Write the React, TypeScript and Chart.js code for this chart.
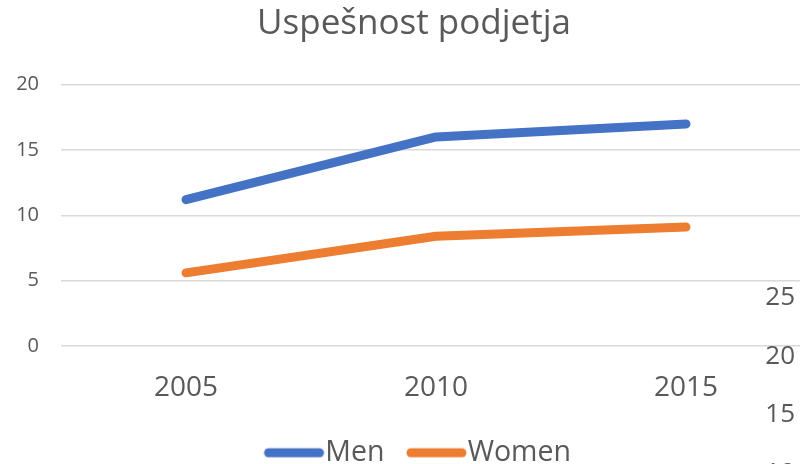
import React, { useEffect, useRef } from "react";
import { Chart, registerables } from "chart.js";

Chart.register(...registerables);

const chartTitle = "Uspešnost podjetja";
const years = ["2005", "2010", "2015"];
const seriesNames = ["Men", "Women"];
const menValues = [11.2, 16.0, 17.0];
const womenValues = [5.6, 8.4, 9.1];
const seriesColors = ["#4472C4", "#ED7D31"];
const yMin = 0;
const yMax = 20;
const yStep = 5;
const overlayTicks = ["25", "20", "15", "10"];

const FONT = "'Open Sans', Lato, sans-serif";
const TEXT = "#595959";
const LEGEND_FONT = 28.5;
const LEGEND_BOX = 64;

function makeSwatch(color: string): HTMLCanvasElement {
  const c = document.createElement("canvas");
  const w = Math.round(LEGEND_BOX + LEGEND_FONT);
  c.width = w;
  c.height = 12;
  const g = c.getContext("2d")!;
  g.strokeStyle = color;
  g.lineWidth = 9;
  g.lineCap = "round";
  g.beginPath();
  g.moveTo(w - 57, 6);
  g.lineTo(w - 6, 6);
  g.stroke();
  return c;
}

const legendShift = {
  id: "legendShift",
  afterLayout(c: any) {
    if (c.legend) {
      c.legend.left -= 5;
      c.legend.right -= 5;
    }
  },
};

export default function App() {
  const ref = useRef<HTMLCanvasElement | null>(null);

  useEffect(() => {
    if (!ref.current) return;
    const swatches = seriesColors.map(makeSwatch);
    const lineDs = (i: number, data: number[]) => ({
      label: seriesNames[i],
      data,
      borderColor: seriesColors[i],
      backgroundColor: seriesColors[i],
      borderWidth: 9,
      borderCapStyle: "round" as const,
      borderJoinStyle: "round" as const,
      pointRadius: 0,
      tension: 0,
    });
    const chart = new Chart(ref.current, {
      type: "line",
      data: {
        labels: years,
        datasets: [lineDs(0, menValues), lineDs(1, womenValues)],
      },
      plugins: [legendShift],
      options: {
        animation: false,
        responsive: false,
        maintainAspectRatio: false,
        layout: { padding: { left: 17, right: 0, top: 0, bottom: 0 } },
        plugins: {
          tooltip: { enabled: false },
          title: {
            display: true,
            text: chartTitle,
            color: TEXT,
            font: { family: FONT, size: 35, weight: "normal" },
            padding: { top: 3, bottom: 39.7 },
          },
          legend: {
            position: "bottom",
            labels: {
              usePointStyle: true,
              pointStyleWidth: LEGEND_BOX,
              boxHeight: 12,
              padding: 5,
              color: TEXT,
              font: { family: FONT, size: LEGEND_FONT },
              generateLabels: (c: any) => {
                const items = Chart.defaults.plugins.legend.labels.generateLabels(c);
                items.forEach((it: any, i: number) => {
                  it.pointStyle = swatches[i];
                });
                return items;
              },
            },
          },
        },
        scales: {
          x: {
            offset: true,
            grid: { display: false, drawTicks: false },
            border: { display: false },
            ticks: { color: TEXT, font: { family: FONT, size: 28 }, padding: 25 },
            afterFit: (s: any) => {
              s.height = 87.5;
            },
          },
          y: {
            min: yMin,
            max: yMax,
            ticks: { stepSize: yStep, color: TEXT, font: { family: FONT, size: 20 }, padding: 22 },
            grid: { color: "#D9D9D9", lineWidth: 1.5, drawTicks: false },
            border: { display: false },
            afterFit: (s: any) => {
              s.width = 44;
            },
          },
        },
      },
    });
    return () => chart.destroy();
  }, []);

  return (
    <div
      style={{
        position: "fixed",
        left: 0,
        top: 0,
        width: 800,
        height: 464,
        overflow: "hidden",
        background: "#fff",
      }}
    >
      <canvas ref={ref} width={811} height={477} style={{ position: "absolute", left: 0, top: 0, width: 811, height: 477 }} />
      {overlayTicks.map((t, i) => (
        <span
          key={t}
          style={{
            position: "absolute",
            right: 5,
            top: 296 + i * 58.5 - 13.8,
            fontFamily: FONT,
            fontSize: 26,
            lineHeight: "26px",
            color: TEXT,
          }}
        >
          {t}
        </span>
      ))}
    </div>
  );
}
